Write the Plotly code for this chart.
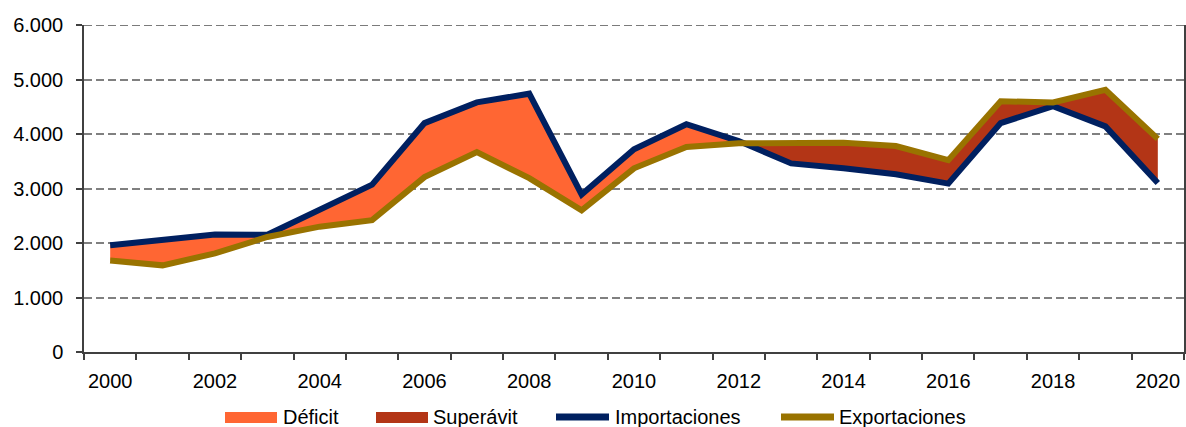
import plotly.graph_objects as go

years = list(range(2000, 2021))
importaciones = [1960, 2050, 2155, 2150, 2600, 3070, 4200, 4580, 4740, 2890, 3720, 4180,
                 3870, 3460, 3370, 3260, 3090, 4200, 4510, 4140, 3100]
exportaciones = [1680, 1590, 1810, 2110, 2300, 2420, 3210, 3670, 3190, 2600, 3370, 3760,
                 3830, 3840, 3840, 3780, 3520, 4600, 4580, 4810, 3910]
tick_years = [2000, 2002, 2004, 2006, 2008, 2010, 2012, 2014, 2016, 2018, 2020]
y_ticks = [0, 1000, 2000, 3000, 4000, 5000, 6000]
legend_names = ["Déficit", "Superávit", "Importaciones", "Exportaciones"]

lo = [min(a, b) for a, b in zip(importaciones, exportaciones)]
deficit = [max(a - b, 0) for a, b in zip(importaciones, exportaciones)]
superavit = [max(b - a, 0) for a, b in zip(importaciones, exportaciones)]
mid = [l + d for l, d in zip(lo, deficit)]
hi = [m + s for m, s in zip(mid, superavit)]

NAVY = "#002060"
GOLD = "#997300"
ORANGE = "#FF6633"
DARKRED = "#B33516"
FONT = "Liberation Sans, Arial, sans-serif"

W, H = 1186, 427
ML, MR, MT, MB = 84, 2, 25, 75
PW, PH = W - ML - MR, H - MT - MB


def px_x(px):
    return (px - ML) / PW


def px_y(py):
    return (H - MB - py) / PH


fig = go.Figure()
fig.add_trace(go.Scatter(x=years, y=lo, mode="lines", line=dict(width=0),
                         showlegend=False, hoverinfo="skip"))
fig.add_trace(go.Scatter(x=years, y=mid, mode="lines", line=dict(width=0),
                         fill="tonexty", fillcolor=ORANGE, name=legend_names[0]))
fig.add_trace(go.Scatter(x=years, y=hi, mode="lines", line=dict(width=0),
                         fill="tonexty", fillcolor=DARKRED, name=legend_names[1]))
fig.add_trace(go.Scatter(x=years, y=importaciones, mode="lines",
                         line=dict(color=NAVY, width=6), name=legend_names[2]))
fig.add_trace(go.Scatter(x=years, y=exportaciones, mode="lines",
                         line=dict(color=GOLD, width=6), name=legend_names[3]))

# top dashed grid line at the maximum of the value axis
shapes = [dict(type="line", xref="paper", yref="y", x0=0, x1=1,
               y0=y_ticks[-1], y1=y_ticks[-1],
               line=dict(color="#505050", width=1.5, dash="8px,4px"), layer="below")]

# custom legend (swatches + real text) below the plot
legend_items = [
    ("rect", ORANGE, 225, 277, 283),
    ("rect", DARKRED, 376, 428, 433),
    ("line", NAVY, 556, 609, 615),
    ("line", GOLD, 781, 834, 839),
]
annotations = []
ly = 417
for (kind, color, x0, x1, tx), name in zip(legend_items, legend_names):
    if kind == "rect":
        shapes.append(dict(type="rect", xref="paper", yref="paper",
                           x0=px_x(x0), x1=px_x(x1), y0=px_y(ly + 6), y1=px_y(ly - 5),
                           fillcolor=color, line=dict(width=0), layer="above"))
    else:
        shapes.append(dict(type="line", xref="paper", yref="paper",
                           x0=px_x(x0), x1=px_x(x1), y0=px_y(ly), y1=px_y(ly),
                           line=dict(color=color, width=7), layer="above"))
    annotations.append(dict(text=name, xref="paper", yref="paper",
                            x=px_x(tx - 1), y=px_y(ly), xanchor="left", yanchor="middle",
                            borderpad=0, showarrow=False,
                            font=dict(family=FONT, size=20, color="black")))

fig.update_layout(
    width=W, height=H,
    margin=dict(l=ML, r=MR, t=MT, b=MB, autoexpand=False),
    paper_bgcolor="white", plot_bgcolor="white",
    separators=",.",
    showlegend=False,
    font=dict(family=FONT, size=20, color="black"),
    shapes=shapes,
    annotations=annotations,
    xaxis=dict(range=[1999.5, 2020.5], tickmode="array", tickvals=tick_years,
               ticktext=[str(y) for y in tick_years], ticks="", showgrid=False,
               showline=True, linecolor="#404040", linewidth=1.5, zeroline=False,
               ticklabelstandoff=10,
               minor=dict(ticks="outside", tick0=1999.5, dtick=1, ticklen=6,
                          tickcolor="#404040", tickwidth=1.5, showgrid=False)),
    yaxis=dict(range=[0, 6000], tickmode="array", tickvals=y_ticks,
               tickformat=",.0f", ticks="outside", ticklen=6, tickcolor="#404040",
               tickwidth=1.5, showline=True, linecolor="#404040", linewidth=1.5,
               mirror=True, showgrid=True, gridcolor="#808080", gridwidth=1.5,
               griddash="8px,4px", zeroline=False, ticklabelstandoff=9),
)

fig.write_html("out.html", config={"displayModeBar": False},
               post_script="document.body.style.margin='0px';")
